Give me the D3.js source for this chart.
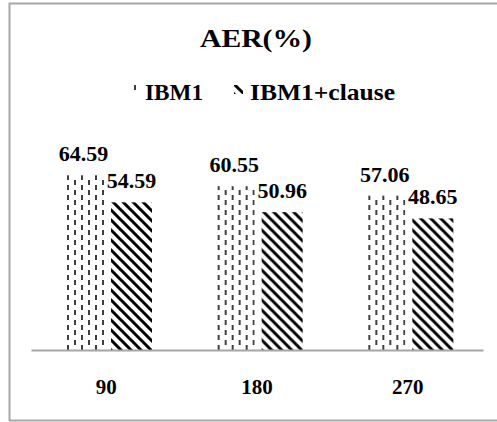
<!DOCTYPE html>
<html>
<head>
<meta charset="utf-8">
<script src="https://cdn.jsdelivr.net/npm/d3@7"></script>
<style>
  html, body { margin: 0; padding: 0; background: #fff; }
  svg { display: block; font-family: "Liberation Serif", "Times New Roman", serif; }
</style>
</head>
<body>
<svg id="chart" width="497" height="422"></svg>
<script>
const categories = ["90", "180", "270"];
const seriesNames = ["IBM1", "IBM1+clause"];
const ibm1 = [64.59, 60.55, 57.06];
const ibm1Clause = [54.59, 50.96, 48.65];
const titleText = "AER(%)";

const svg = d3.select("#chart");
const defs = svg.append("defs");

// dashed vertical pattern for IBM1
const pDash = defs.append("pattern")
  .attr("id", "pDash").attr("patternUnits", "userSpaceOnUse")
  .attr("width", 14).attr("height", 10);
pDash.append("rect").attr("width", 14).attr("height", 10).attr("fill", "#fff");
pDash.append("path").attr("d", "M2,0V5 M9,5V10")
  .attr("stroke", "#000").attr("stroke-width", 1.5);

// diagonal hatch for IBM1+clause
const pHatch = defs.append("pattern")
  .attr("id", "pHatch").attr("patternUnits", "userSpaceOnUse")
  .attr("width", 10).attr("height", 10);
pHatch.append("rect").attr("width", 10).attr("height", 10).attr("fill", "#fff");
pHatch.append("path").attr("d", "M-5,5L5,15 M0,0L10,10 M5,-5L15,5")
  .attr("stroke", "#000").attr("stroke-width", 3);

const fills = { "IBM1": "url(#pDash)", "IBM1+clause": "url(#pHatch)" };

// frame
svg.append("rect").attr("x", 9.5).attr("y", 3.5).attr("width", 500).attr("height", 417)
  .attr("fill", "none").attr("stroke", "#a8a8a8").attr("stroke-width", 2);

const x0 = d3.scaleBand().domain(categories).range([31, 483]).padding(0);
const x1 = d3.scaleBand().domain(seriesNames).range([32, 121])
  .paddingInner(2 - 89 / 48).paddingOuter(0);
const y = d3.scaleLinear().domain([0, 80]).range([350, 350 - 2.705 * 80]);

const data = categories.map((c, i) => ({
  cat: c,
  vals: [{ s: "IBM1", v: ibm1[i] }, { s: "IBM1+clause", v: ibm1Clause[i] }]
}));

const groups = svg.append("g").selectAll("g").data(data).join("g")
  .attr("transform", d => `translate(${x0(d.cat)},0)`);

groups.selectAll("rect").data(d => d.vals).join("rect")
  .attr("x", d => x1(d.s)).attr("width", x1.bandwidth())
  .attr("y", d => y(d.v)).attr("height", d => y(0) - y(d.v))
  .attr("fill", d => fills[d.s]);

groups.selectAll("text.val").data(d => d.vals).join("text")
  .attr("class", "val")
  .attr("x", d => x1(d.s) + x1.bandwidth() / 2)
  .attr("y", d => y(d.v) - 14)
  .attr("text-anchor", "middle")
  .attr("font-size", 22).attr("font-weight", "bold")
  .text(d => d.v.toFixed(2));

// x axis
const axis = svg.append("g").attr("transform", `translate(0,${y(0)})`)
  .call(d3.axisBottom(x0).tickSize(0).tickPadding(0));
axis.select(".domain").attr("stroke", "#a6a6a6").attr("stroke-width", 2);
axis.selectAll("text")
  .attr("dy", null).attr("y", 44)
  .attr("font-family", "Liberation Serif, Times New Roman, serif")
  .attr("font-size", 21).attr("font-weight", "bold").attr("fill", "#000");

// title
svg.append("text").attr("x", 200).attr("y", 46.5)
  .attr("font-size", 25).attr("font-weight", "bold")
  .attr("textLength", 112).attr("lengthAdjust", "spacingAndGlyphs")
  .text(titleText);

// legend
const legend = [
  { name: seriesNames[0], sx: 129, tx: 145, w: 58 },
  { name: seriesNames[1], sx: 234, tx: 250, w: 145 }
];
const lg = svg.append("g");
lg.selectAll("rect").data(legend).join("rect")
  .attr("x", d => d.sx).attr("y", 85).attr("width", 9).attr("height", 9)
  .attr("fill", d => fills[d.name]);
lg.selectAll("text").data(legend).join("text")
  .attr("x", d => d.tx).attr("y", 100)
  .attr("font-size", 23).attr("font-weight", "bold")
  .attr("textLength", d => d.w).attr("lengthAdjust", "spacingAndGlyphs")
  .text(d => d.name);
</script>
</body>
</html>
